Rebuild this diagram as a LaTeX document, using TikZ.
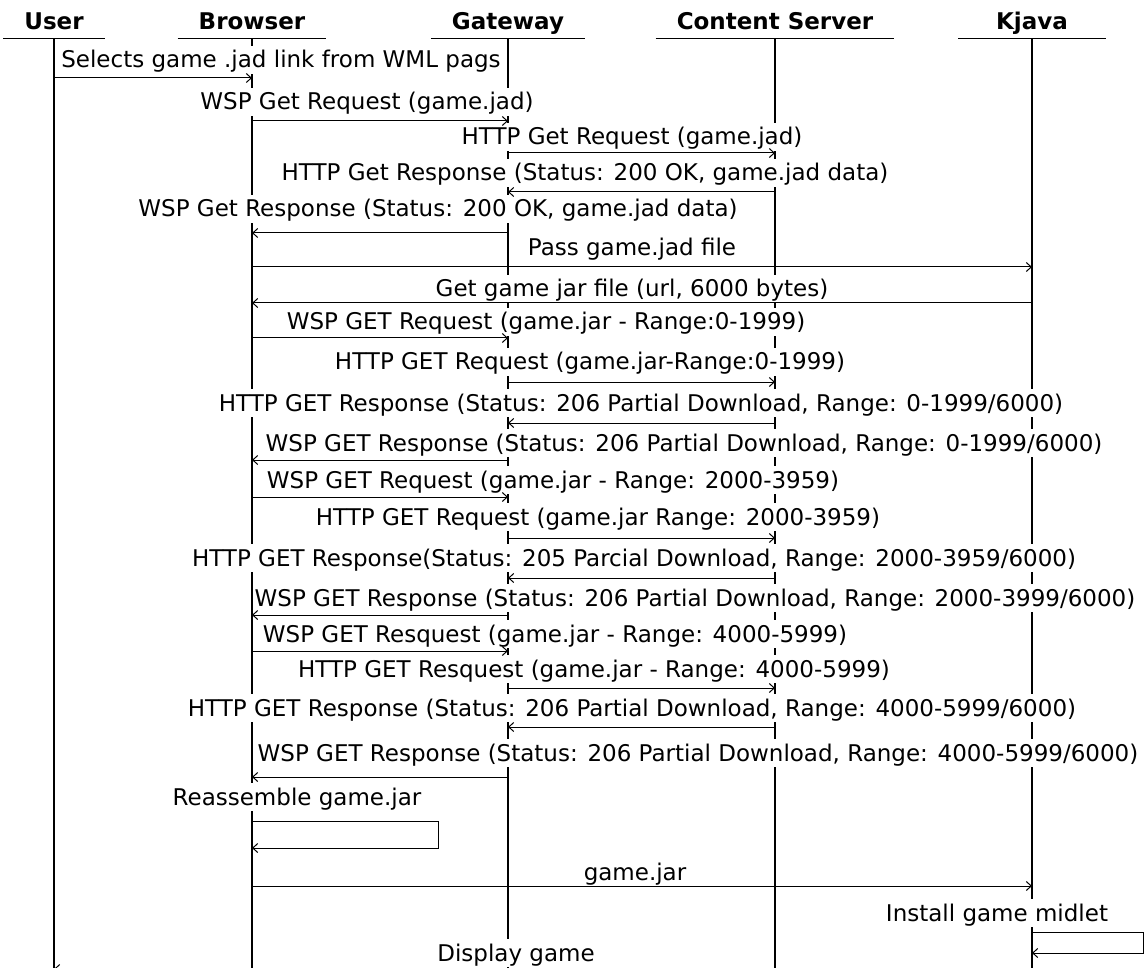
\documentclass[tikz,border=0pt]{standalone}
\usepackage{fontspec}
\setmainfont{DejaVu Sans}
\usepackage{tikz}
\usetikzlibrary{arrows.meta}
\tikzset{
	lifehead/.style={anchor=base, font=\bfseries, inner xsep=21pt, inner ysep=8pt, text depth=0pt},
	lifeline/.style={line width=1.3pt},
	msgtext/.style={anchor=base, fill=white, inner xsep=1pt, inner ysep=3pt, text height=19pt, text depth=3pt},
	msg/.style={line width=1pt, -{Straight Barb[length=5pt,width=9pt]}},
}
\begin{document}
\fontsize{23}{26}\selectfont
\begin{tikzpicture}[x=1pt, y=-1pt]
	\useasboundingbox (0,0) rectangle (1146,968);
	
	\node[lifehead] (user) at (54,30) {User};
	\node[lifehead] (browser) at (252,30) {Browser};
	\node[lifehead] (gateway) at (508,30) {Gateway};
	\node[lifehead] (server) at (775,30) {Content Server};
	\node[lifehead, minimum width=147pt] (kjava) at (1032,30) {Kjava};
	\coordinate (bottom) at (0,980);
	\foreach \n in {user,browser,gateway,server,kjava}
		\draw[lifeline] (\n.south west) -- (\n.south east) (\n.south) -- (\n.south |- bottom);
	
	\node[msgtext] (t1) at (281,68) {Selects game .jad link from WML pags};
	\node[msgtext] (t2) at (367,110) {WSP Get Request (game.jad)};
	\node[msgtext] (t3) at (632,145) {HTTP Get Request (game.jad)};
	\node[msgtext] (t4) at (585,181) {HTTP Get Response (Status: 200 OK, game.jad data)};
	\node[msgtext] (t5) at (438,217) {WSP Get Response (Status: 200 OK, game.jad data)};
	\node[msgtext] (t6) at (632,256) {Pass game.jad file};
	\node[msgtext] (t7) at (632,297) {Get game jar file (url, 6000 bytes)};
	\node[msgtext] (t8) at (546,330) {WSP GET Request (game.jar - Range:0-1999)};
	\node[msgtext] (t9) at (590,370) {HTTP GET Request (game.jar-Range:0-1999)};
	\node[msgtext] (t10) at (641,411) {HTTP GET Response (Status: 206 Partial Download, Range: 0-1999/6000)};
	\node[msgtext] (t11) at (684,451) {WSP GET Response (Status: 206 Partial Download, Range: 0-1999/6000)};
	\node[msgtext] (t12) at (553,488) {WSP GET Request (game.jar - Range: 2000-3959)};
	\node[msgtext] (t13) at (598,525) {HTTP GET Request (game.jar Range: 2000-3959)};
	\node[msgtext] (t14) at (634,566) {HTTP GET Response(Status: 205 Parcial Download, Range: 2000-3959/6000)};
	\node[msgtext] (t15) at (695,606) {WSP GET Response (Status: 206 Partial Download, Range: 2000-3999/6000)};
	\node[msgtext] (t16) at (555,642) {WSP GET Resquest (game.jar - Range: 4000-5999)};
	\node[msgtext] (t17) at (594,677) {HTTP GET Resquest (game.jar - Range: 4000-5999)};
	\node[msgtext] (t18) at (632,716) {HTTP GET Response (Status: 206 Partial Download, Range: 4000-5999/6000)};
	\node[msgtext] (t19) at (698,761) {WSP GET Response (Status: 206 Partial Download, Range: 4000-5999/6000)};
	\node[msgtext] (t20) at (297,805) {Reassemble game.jar};
	\node[msgtext] (t21) at (635,880) {game.jar};
	\node[msgtext] (t22) at (997,921) {Install game midlet};
	\node[msgtext] (t23) at (516,961) {Display game};
	
	\foreach \i/\y/\a/\b in {1/78/user/browser, 2/121/browser/gateway, 3/153/gateway/server,
		4/192/server/gateway, 5/233/gateway/browser, 6/267/browser/kjava, 7/303/kjava/browser,
		8/338/browser/gateway, 9/382/gateway/server, 10/423/server/gateway, 11/460/gateway/browser,
		12/497/browser/gateway, 13/538/gateway/server, 14/578/server/gateway, 15/615/gateway/browser,
		16/651/browser/gateway, 17/688/gateway/server, 18/727/server/gateway, 19/777/gateway/browser,
		21/886/browser/kjava, 23/969/gateway/user}{
		\coordinate (r\i) at (0,\y);
		\draw[msg] (\a |- r\i) -- (\b |- r\i);
	}
	
	\coordinate (loop1a) at (438,821);
	\coordinate (loop1b) at (438,848);
	\draw[msg] (browser |- loop1a) -- (loop1a) -- (loop1b) -- (browser |- loop1b);
	\coordinate (loop2a) at (1143,932);
	\coordinate (loop2b) at (1143,953);
	\draw[msg] (kjava |- loop2a) -- (loop2a) -- (loop2b) -- (kjava |- loop2b);
\end{tikzpicture}
\end{document}
